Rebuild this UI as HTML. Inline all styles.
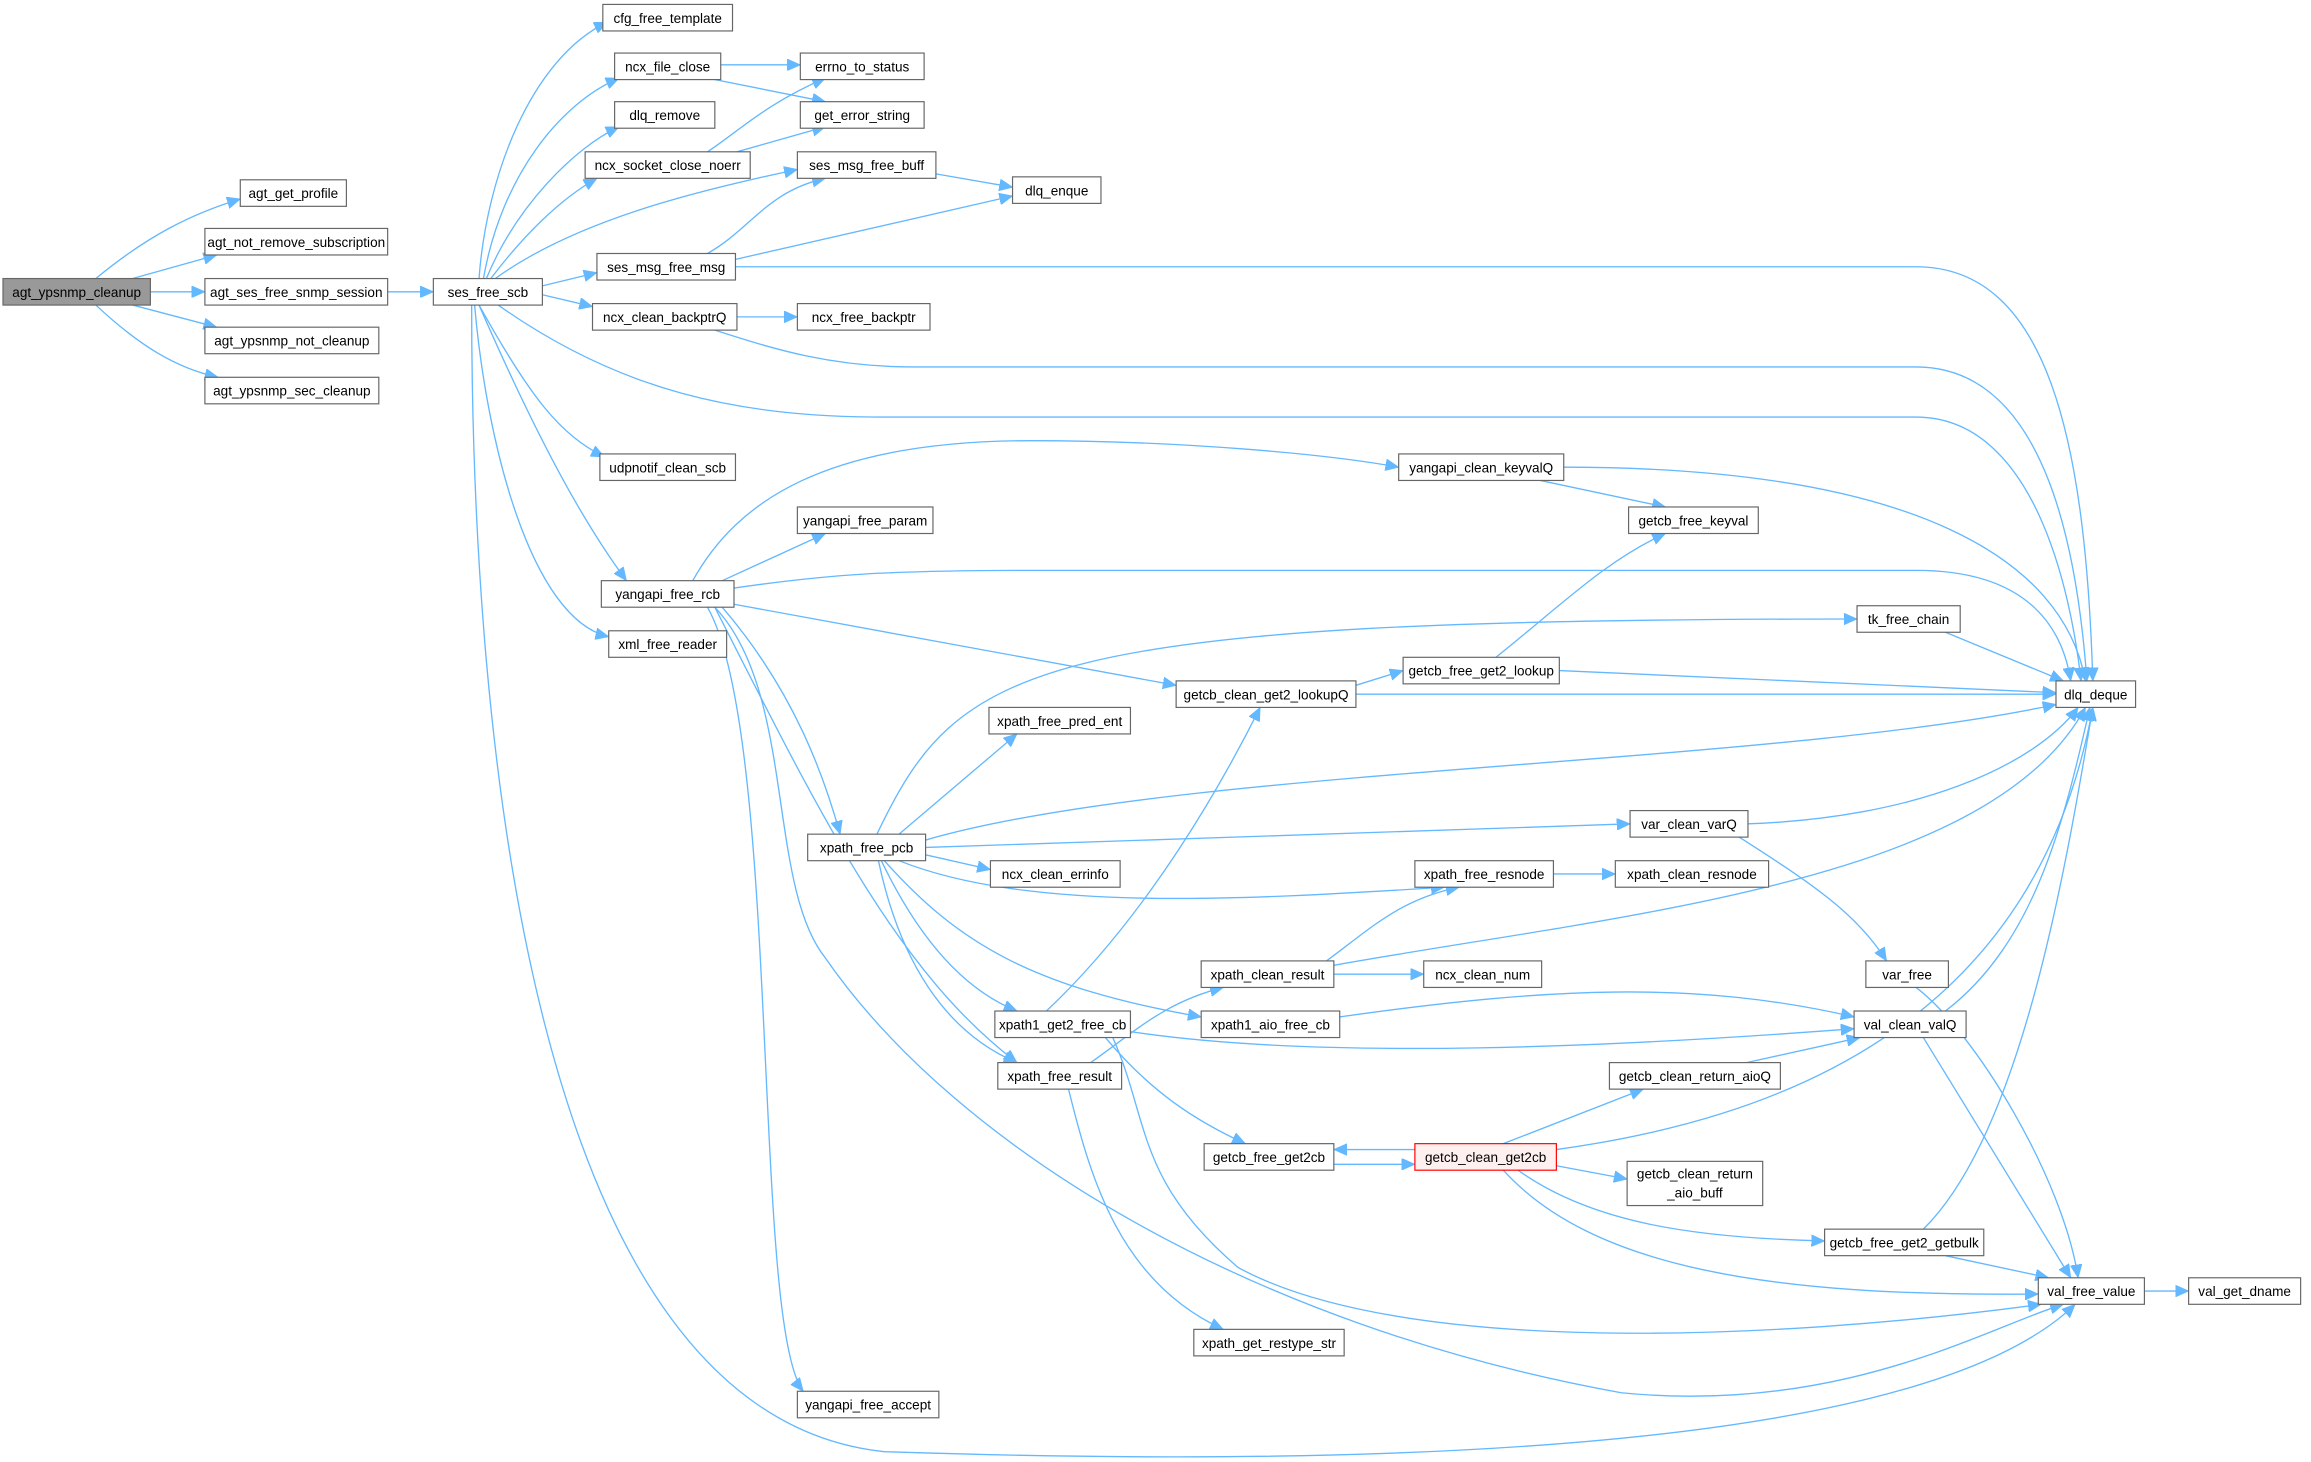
<!DOCTYPE html>
<html><head><meta charset="utf-8"><style>
html,body{margin:0;padding:0;background:#fff}
svg{display:block}
text{font-family:"Liberation Sans",sans-serif;font-size:9.2px;fill:#000}
rect{fill:#fff;stroke:#666;stroke-width:0.8}
path{fill:none;stroke:#63b8ff;stroke-width:0.9}
</style></head><body>
<svg width="2311" height="1462" viewBox="0 0 1568 992" xmlns="http://www.w3.org/2000/svg">
<defs><marker id="a" markerUnits="userSpaceOnUse" markerWidth="10" markerHeight="8" refX="9" refY="4" orient="auto"><path d="M0,0 L9,4 L0,8 z" style="fill:#63b8ff;stroke:#63b8ff;stroke-width:0.5"/></marker></defs>
<g marker-end="url(#a)">
<path d="M65,189 C100,160 130,145 163,135"/>
<path d="M90,189 L147,173"/>
<path d="M102,198 L139,198"/>
<path d="M90,207 L147,222"/>
<path d="M65,207 C95,235 120,250 148,256"/>
<path d="M263,198 L294,198"/>
<path d="M325,189 C330,120 360,40 412,15"/>
<path d="M328,189 C340,120 380,70 420,53"/>
<path d="M330,189 C350,140 390,100 420,86"/>
<path d="M333,189 C355,160 380,135 405,121"/>
<path d="M336,189 C390,150 470,130 541,115"/>
<path d="M368,194 L405,185"/>
<path d="M368,200 L402,208"/>
<path d="M338,207 C420,265 500,283 600,283 L1300,283 C1380,283 1405,400 1412,462"/>
<path d="M325,207 C360,270 380,295 410,310"/>
<path d="M325,207 C370,310 400,360 425,394"/>
<path d="M322,207 C330,300 360,420 413,432"/>
<path d="M320,207 C320,500 360,960 600,985 C900,995 1300,990 1408,885"/>
<path d="M489,44 L543,44"/>
<path d="M480,53 L560,69"/>
<path d="M480,103 C500,90 520,70 560,53"/>
<path d="M500,103 L560,86"/>
<path d="M480,172 C510,155 520,130 560,121"/>
<path d="M499,176 L687,133"/>
<path d="M499,181 L1300,181 C1390,181 1415,300 1420,462"/>
<path d="M635,118 L687,127"/>
<path d="M500,215 L541,215"/>
<path d="M485,224 C520,235 560,249 620,249 L1300,249 C1390,249 1410,380 1416,462"/>
<path d="M470,394 C500,340 560,299 700,299 C800,299 900,308 949,317"/>
<path d="M490,394 L560,362"/>
<path d="M498,399 C560,390 600,387 700,387 L1300,387 C1380,387 1400,430 1405,462"/>
<path d="M498,410 L798,465"/>
<path d="M490,412 C540,470 560,530 570,566"/>
<path d="M485,412 C560,560 610,660 690,721"/>
<path d="M480,412 C530,500 510,900 545,944"/>
<path d="M485,412 C540,470 520,600 560,650 C650,780 850,900 1100,945 C1250,960 1350,900 1400,885"/>
<path d="M1045,326 L1130,344"/>
<path d="M1061,317 C1300,317 1400,380 1415,462"/>
<path d="M1015,446 C1060,410 1090,380 1130,362"/>
<path d="M1058,455 L1395,470"/>
<path d="M920,465 L952,455"/>
<path d="M920,471 L1395,471"/>
<path d="M1320,429 L1400,462"/>
<path d="M595,566 C650,450 700,420 1260,420"/>
<path d="M610,566 L690,498"/>
<path d="M628,570 C800,520 1200,520 1395,478"/>
<path d="M628,575 L1106,559"/>
<path d="M628,580 L672,590"/>
<path d="M610,584 C700,620 850,610 980,602"/>
<path d="M600,584 C650,640 700,670 815,690"/>
<path d="M598,584 C620,630 650,670 690,686"/>
<path d="M596,584 C610,650 640,700 690,721"/>
<path d="M1186,559 C1300,555 1380,520 1410,480"/>
<path d="M1180,568 C1230,600 1260,620 1280,652"/>
<path d="M1054,593 L1096,593"/>
<path d="M900,652 C930,630 950,610 990,602"/>
<path d="M905,661 L966,661"/>
<path d="M905,655 C1100,620 1350,600 1415,480"/>
<path d="M1300,670 C1340,700 1400,800 1410,867"/>
<path d="M909,690 C1050,670 1150,665 1258,690"/>
<path d="M1320,686 C1380,640 1400,560 1418,480"/>
<path d="M1305,704 L1405,867"/>
<path d="M710,686 C780,620 830,530 855,480"/>
<path d="M767,700 C900,720 1100,710 1258,698"/>
<path d="M750,704 C780,740 810,760 845,776"/>
<path d="M755,704 C780,760 770,800 840,860 C950,920 1200,910 1385,885"/>
<path d="M740,721 C770,700 790,680 830,670"/>
<path d="M725,739 C740,800 760,870 830,902"/>
<path d="M1185,721 L1262,704"/>
<path d="M960,780 L905,780"/>
<path d="M905,790 L960,790"/>
<path d="M1020,776 L1115,739"/>
<path d="M1056,780 C1200,760 1380,700 1420,480"/>
<path d="M1056,791 L1104,800"/>
<path d="M1030,794 C1080,830 1150,840 1238,842"/>
<path d="M1020,794 C1080,860 1200,880 1383,878"/>
<path d="M1305,834 C1370,770 1400,600 1420,480"/>
<path d="M1320,852 L1390,867"/>
<path d="M1455,876 L1485,876"/>
</g>
<g text-anchor="middle">
<rect x="2" y="189" width="100" height="18" style="fill:#999"/><text x="52" y="201.5">agt_ypsnmp_cleanup</text>
<rect x="163" y="122" width="72" height="18"/><text x="199" y="134.5">agt_get_profile</text>
<rect x="139" y="155" width="124" height="18"/><text x="201" y="167.5">agt_not_remove_subscription</text>
<rect x="139" y="189" width="124" height="18"/><text x="201" y="201.5">agt_ses_free_snmp_session</text>
<rect x="139" y="222" width="118" height="18"/><text x="198" y="234.5">agt_ypsnmp_not_cleanup</text>
<rect x="139" y="256" width="118" height="18"/><text x="198" y="268.5">agt_ypsnmp_sec_cleanup</text>
<rect x="294" y="189" width="74" height="18"/><text x="331" y="201.5">ses_free_scb</text>
<rect x="409" y="3" width="88" height="18"/><text x="453" y="15.5">cfg_free_template</text>
<rect x="417" y="36" width="72" height="18"/><text x="453" y="48.5">ncx_file_close</text>
<rect x="417" y="69" width="68" height="18"/><text x="451" y="81.5">dlq_remove</text>
<rect x="397" y="103" width="112" height="18"/><text x="453" y="115.5">ncx_socket_close_noerr</text>
<rect x="405" y="172" width="94" height="18"/><text x="452" y="184.5">ses_msg_free_msg</text>
<rect x="402" y="206" width="98" height="18"/><text x="451" y="218.5">ncx_clean_backptrQ</text>
<rect x="407" y="308" width="92" height="18"/><text x="453" y="320.5">udpnotif_clean_scb</text>
<rect x="408" y="394" width="90" height="18"/><text x="453" y="406.5">yangapi_free_rcb</text>
<rect x="413" y="428" width="80" height="18"/><text x="453" y="440.5">xml_free_reader</text>
<rect x="543" y="36" width="84" height="18"/><text x="585" y="48.5">errno_to_status</text>
<rect x="543" y="69" width="84" height="18"/><text x="585" y="81.5">get_error_string</text>
<rect x="541" y="103" width="94" height="18"/><text x="588" y="115.5">ses_msg_free_buff</text>
<rect x="541" y="206" width="90" height="18"/><text x="586" y="218.5">ncx_free_backptr</text>
<rect x="687" y="120" width="60" height="18"/><text x="717" y="132.5">dlq_enque</text>
<rect x="541" y="344" width="92" height="18"/><text x="587" y="356.5">yangapi_free_param</text>
<rect x="949" y="308" width="112" height="18"/><text x="1005" y="320.5">yangapi_clean_keyvalQ</text>
<rect x="1105" y="344" width="88" height="18"/><text x="1149" y="356.5">getcb_free_keyval</text>
<rect x="1260" y="411" width="70" height="18"/><text x="1295" y="423.5">tk_free_chain</text>
<rect x="952" y="446" width="106" height="18"/><text x="1005" y="458.5">getcb_free_get2_lookup</text>
<rect x="798" y="462" width="122" height="18"/><text x="859" y="474.5">getcb_clean_get2_lookupQ</text>
<rect x="1395" y="462" width="54" height="18"/><text x="1422" y="474.5">dlq_deque</text>
<rect x="671" y="480" width="96" height="18"/><text x="719" y="492.5">xpath_free_pred_ent</text>
<rect x="548" y="566" width="80" height="18"/><text x="588" y="578.5">xpath_free_pcb</text>
<rect x="1106" y="550" width="80" height="18"/><text x="1146" y="562.5">var_clean_varQ</text>
<rect x="672" y="584" width="88" height="18"/><text x="716" y="596.5">ncx_clean_errinfo</text>
<rect x="960" y="584" width="94" height="18"/><text x="1007" y="596.5">xpath_free_resnode</text>
<rect x="1096" y="584" width="104" height="18"/><text x="1148" y="596.5">xpath_clean_resnode</text>
<rect x="815" y="652" width="90" height="18"/><text x="860" y="664.5">xpath_clean_result</text>
<rect x="966" y="652" width="80" height="18"/><text x="1006" y="664.5">ncx_clean_num</text>
<rect x="1266" y="652" width="56" height="18"/><text x="1294" y="664.5">var_free</text>
<rect x="815" y="686" width="94" height="18"/><text x="862" y="698.5">xpath1_aio_free_cb</text>
<rect x="1258" y="686" width="76" height="18"/><text x="1296" y="698.5">val_clean_valQ</text>
<rect x="675" y="686" width="92" height="18"/><text x="721" y="698.5">xpath1_get2_free_cb</text>
<rect x="677" y="721" width="84" height="18"/><text x="719" y="733.5">xpath_free_result</text>
<rect x="1092" y="721" width="116" height="18"/><text x="1150" y="733.5">getcb_clean_return_aioQ</text>
<rect x="817" y="776" width="88" height="18"/><text x="861" y="788.5">getcb_free_get2cb</text>
<rect x="960" y="776" width="96" height="18" style="fill:#fff0f0;stroke:#ff0000"/><text x="1008" y="788.5">getcb_clean_get2cb</text>
<rect x="1104" y="788" width="92" height="30"/><text x="1150" y="799.5">getcb_clean_return</text><text x="1150" y="812.5">_aio_buff</text>
<rect x="1238" y="834" width="108" height="18"/><text x="1292" y="846.5">getcb_free_get2_getbulk</text>
<rect x="1383" y="867" width="72" height="18"/><text x="1419" y="879.5">val_free_value</text>
<rect x="1485" y="867" width="76" height="18"/><text x="1523" y="879.5">val_get_dname</text>
<rect x="810" y="902" width="102" height="18"/><text x="861" y="914.5">xpath_get_restype_str</text>
<rect x="541" y="944" width="96" height="18"/><text x="589" y="956.5">yangapi_free_accept</text>
</g>
</svg>
</body></html>
